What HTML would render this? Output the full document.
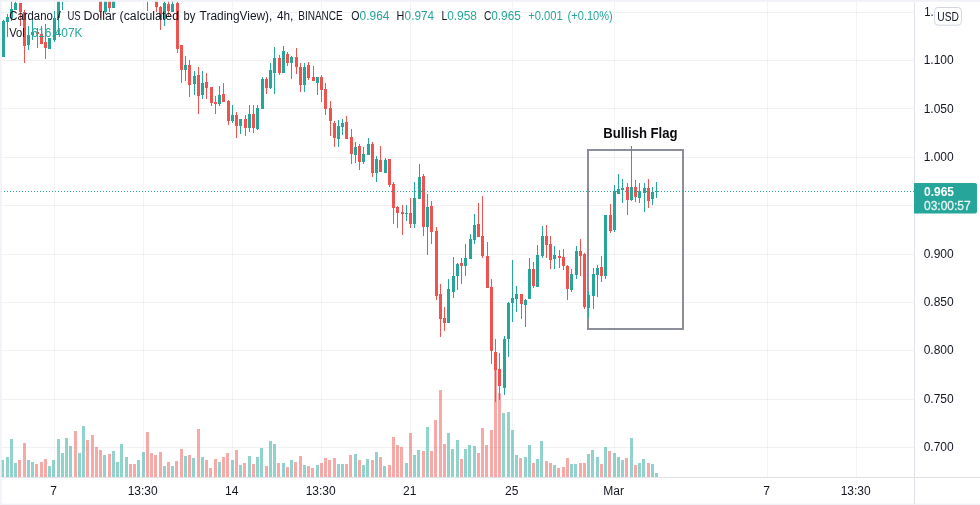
<!DOCTYPE html><html><head><meta charset="utf-8"><title>ADAUSD chart</title><style>html,body{margin:0;padding:0;background:#fff}body{width:980px;height:505px;overflow:hidden}svg{display:block}text{font-family:"Liberation Sans", sans-serif;}</style></head><body>
<svg width="980" height="505" viewBox="0 0 980 505">
<rect width="980" height="505" fill="#fff"/>
<g fill="#2a2e39" fill-opacity="0.062" shape-rendering="crispEdges">
<rect x="54" y="0" width="1" height="477" fill-opacity="0.05"/>
<rect x="143" y="0" width="1" height="477" fill-opacity="0.05"/>
<rect x="232" y="0" width="1" height="477" fill-opacity="0.05"/>
<rect x="321" y="0" width="1" height="477" fill-opacity="0.05"/>
<rect x="410" y="0" width="1" height="477" fill-opacity="0.05"/>
<rect x="512" y="0" width="1" height="477" fill-opacity="0.05"/>
<rect x="614" y="0" width="1" height="477" fill-opacity="0.05"/>
<rect x="767" y="0" width="1" height="477" fill-opacity="0.05"/>
<rect x="856" y="0" width="1" height="477" fill-opacity="0.05"/>
<rect x="0" y="12" width="914" height="1"/>
<rect x="0" y="60" width="914" height="1"/>
<rect x="0" y="108" width="914" height="1"/>
<rect x="0" y="157" width="914" height="1"/>
<rect x="0" y="205" width="914" height="1"/>
<rect x="0" y="254" width="914" height="1"/>
<rect x="0" y="302" width="914" height="1"/>
<rect x="0" y="350" width="914" height="1"/>
<rect x="0" y="399" width="914" height="1"/>
<rect x="0" y="447" width="914" height="1"/>
</g>
<g shape-rendering="crispEdges">
<rect x="1" y="460" width="3" height="17" fill="#26a69a" fill-opacity="0.5"/>
<rect x="6" y="457" width="3" height="20" fill="#26a69a" fill-opacity="0.5"/>
<rect x="10" y="439" width="3" height="38" fill="#26a69a" fill-opacity="0.5"/>
<rect x="14" y="463" width="3" height="14" fill="#26a69a" fill-opacity="0.5"/>
<rect x="18" y="460" width="3" height="17" fill="#ef5350" fill-opacity="0.5"/>
<rect x="23" y="443" width="3" height="34" fill="#ef5350" fill-opacity="0.5"/>
<rect x="27" y="460" width="3" height="17" fill="#26a69a" fill-opacity="0.5"/>
<rect x="31" y="462" width="3" height="15" fill="#26a69a" fill-opacity="0.5"/>
<rect x="35" y="464" width="3" height="13" fill="#ef5350" fill-opacity="0.5"/>
<rect x="40" y="462" width="3" height="15" fill="#ef5350" fill-opacity="0.5"/>
<rect x="44" y="459" width="3" height="18" fill="#ef5350" fill-opacity="0.5"/>
<rect x="48" y="466" width="3" height="11" fill="#26a69a" fill-opacity="0.5"/>
<rect x="52" y="460" width="3" height="17" fill="#26a69a" fill-opacity="0.5"/>
<rect x="57" y="439" width="3" height="38" fill="#26a69a" fill-opacity="0.5"/>
<rect x="61" y="453" width="3" height="24" fill="#26a69a" fill-opacity="0.5"/>
<rect x="65" y="438" width="3" height="39" fill="#26a69a" fill-opacity="0.5"/>
<rect x="69" y="446" width="3" height="31" fill="#26a69a" fill-opacity="0.5"/>
<rect x="74" y="431" width="3" height="46" fill="#ef5350" fill-opacity="0.5"/>
<rect x="78" y="453" width="3" height="24" fill="#26a69a" fill-opacity="0.5"/>
<rect x="82" y="426" width="3" height="51" fill="#26a69a" fill-opacity="0.5"/>
<rect x="86" y="440" width="3" height="37" fill="#ef5350" fill-opacity="0.5"/>
<rect x="91" y="435" width="3" height="42" fill="#ef5350" fill-opacity="0.5"/>
<rect x="95" y="447" width="3" height="30" fill="#ef5350" fill-opacity="0.5"/>
<rect x="99" y="450" width="3" height="27" fill="#ef5350" fill-opacity="0.5"/>
<rect x="103" y="455" width="3" height="22" fill="#26a69a" fill-opacity="0.5"/>
<rect x="108" y="454" width="3" height="23" fill="#ef5350" fill-opacity="0.5"/>
<rect x="112" y="451" width="3" height="26" fill="#26a69a" fill-opacity="0.5"/>
<rect x="116" y="462" width="3" height="15" fill="#26a69a" fill-opacity="0.5"/>
<rect x="120" y="444" width="3" height="33" fill="#26a69a" fill-opacity="0.5"/>
<rect x="125" y="457" width="3" height="20" fill="#26a69a" fill-opacity="0.5"/>
<rect x="129" y="464" width="3" height="13" fill="#ef5350" fill-opacity="0.5"/>
<rect x="133" y="464" width="3" height="13" fill="#ef5350" fill-opacity="0.5"/>
<rect x="137" y="460" width="3" height="17" fill="#26a69a" fill-opacity="0.5"/>
<rect x="142" y="452" width="3" height="25" fill="#26a69a" fill-opacity="0.5"/>
<rect x="146" y="432" width="3" height="45" fill="#ef5350" fill-opacity="0.5"/>
<rect x="150" y="453" width="3" height="24" fill="#ef5350" fill-opacity="0.5"/>
<rect x="154" y="455" width="3" height="22" fill="#ef5350" fill-opacity="0.5"/>
<rect x="159" y="452" width="3" height="25" fill="#ef5350" fill-opacity="0.5"/>
<rect x="163" y="466" width="3" height="11" fill="#26a69a" fill-opacity="0.5"/>
<rect x="167" y="462" width="3" height="15" fill="#ef5350" fill-opacity="0.5"/>
<rect x="171" y="466" width="3" height="11" fill="#26a69a" fill-opacity="0.5"/>
<rect x="175" y="461" width="3" height="16" fill="#ef5350" fill-opacity="0.5"/>
<rect x="180" y="449" width="3" height="28" fill="#ef5350" fill-opacity="0.5"/>
<rect x="184" y="456" width="3" height="21" fill="#26a69a" fill-opacity="0.5"/>
<rect x="188" y="455" width="3" height="22" fill="#ef5350" fill-opacity="0.5"/>
<rect x="192" y="458" width="3" height="19" fill="#26a69a" fill-opacity="0.5"/>
<rect x="197" y="429" width="3" height="48" fill="#ef5350" fill-opacity="0.5"/>
<rect x="201" y="457" width="3" height="20" fill="#26a69a" fill-opacity="0.5"/>
<rect x="205" y="460" width="3" height="17" fill="#ef5350" fill-opacity="0.5"/>
<rect x="209" y="468" width="3" height="9" fill="#ef5350" fill-opacity="0.5"/>
<rect x="214" y="459" width="3" height="18" fill="#ef5350" fill-opacity="0.5"/>
<rect x="218" y="462" width="3" height="15" fill="#26a69a" fill-opacity="0.5"/>
<rect x="222" y="457" width="3" height="20" fill="#ef5350" fill-opacity="0.5"/>
<rect x="226" y="453" width="3" height="24" fill="#ef5350" fill-opacity="0.5"/>
<rect x="231" y="460" width="3" height="17" fill="#26a69a" fill-opacity="0.5"/>
<rect x="235" y="450" width="3" height="27" fill="#ef5350" fill-opacity="0.5"/>
<rect x="239" y="465" width="3" height="12" fill="#26a69a" fill-opacity="0.5"/>
<rect x="243" y="463" width="3" height="14" fill="#ef5350" fill-opacity="0.5"/>
<rect x="248" y="456" width="3" height="21" fill="#26a69a" fill-opacity="0.5"/>
<rect x="252" y="464" width="3" height="13" fill="#ef5350" fill-opacity="0.5"/>
<rect x="256" y="457" width="3" height="20" fill="#26a69a" fill-opacity="0.5"/>
<rect x="260" y="448" width="3" height="29" fill="#26a69a" fill-opacity="0.5"/>
<rect x="265" y="466" width="3" height="11" fill="#ef5350" fill-opacity="0.5"/>
<rect x="269" y="441" width="3" height="36" fill="#26a69a" fill-opacity="0.5"/>
<rect x="273" y="444" width="3" height="33" fill="#26a69a" fill-opacity="0.5"/>
<rect x="277" y="463" width="3" height="14" fill="#ef5350" fill-opacity="0.5"/>
<rect x="282" y="463" width="3" height="14" fill="#26a69a" fill-opacity="0.5"/>
<rect x="286" y="467" width="3" height="10" fill="#ef5350" fill-opacity="0.5"/>
<rect x="290" y="460" width="3" height="17" fill="#26a69a" fill-opacity="0.5"/>
<rect x="294" y="462" width="3" height="15" fill="#ef5350" fill-opacity="0.5"/>
<rect x="299" y="456" width="3" height="21" fill="#ef5350" fill-opacity="0.5"/>
<rect x="303" y="465" width="3" height="12" fill="#26a69a" fill-opacity="0.5"/>
<rect x="307" y="466" width="3" height="11" fill="#ef5350" fill-opacity="0.5"/>
<rect x="311" y="468" width="3" height="9" fill="#ef5350" fill-opacity="0.5"/>
<rect x="316" y="465" width="3" height="12" fill="#26a69a" fill-opacity="0.5"/>
<rect x="320" y="463" width="3" height="14" fill="#ef5350" fill-opacity="0.5"/>
<rect x="324" y="458" width="3" height="19" fill="#ef5350" fill-opacity="0.5"/>
<rect x="328" y="460" width="3" height="17" fill="#ef5350" fill-opacity="0.5"/>
<rect x="333" y="458" width="3" height="19" fill="#ef5350" fill-opacity="0.5"/>
<rect x="337" y="464" width="3" height="13" fill="#26a69a" fill-opacity="0.5"/>
<rect x="341" y="464" width="3" height="13" fill="#26a69a" fill-opacity="0.5"/>
<rect x="345" y="464" width="3" height="13" fill="#ef5350" fill-opacity="0.5"/>
<rect x="349" y="455" width="3" height="22" fill="#ef5350" fill-opacity="0.5"/>
<rect x="354" y="454" width="3" height="23" fill="#26a69a" fill-opacity="0.5"/>
<rect x="358" y="460" width="3" height="17" fill="#ef5350" fill-opacity="0.5"/>
<rect x="362" y="465" width="3" height="12" fill="#26a69a" fill-opacity="0.5"/>
<rect x="366" y="459" width="3" height="18" fill="#26a69a" fill-opacity="0.5"/>
<rect x="371" y="460" width="3" height="17" fill="#ef5350" fill-opacity="0.5"/>
<rect x="375" y="452" width="3" height="25" fill="#26a69a" fill-opacity="0.5"/>
<rect x="379" y="457" width="3" height="20" fill="#ef5350" fill-opacity="0.5"/>
<rect x="383" y="466" width="3" height="11" fill="#26a69a" fill-opacity="0.5"/>
<rect x="388" y="465" width="3" height="12" fill="#ef5350" fill-opacity="0.5"/>
<rect x="392" y="437" width="3" height="40" fill="#ef5350" fill-opacity="0.5"/>
<rect x="396" y="445" width="3" height="32" fill="#ef5350" fill-opacity="0.5"/>
<rect x="400" y="447" width="3" height="30" fill="#ef5350" fill-opacity="0.5"/>
<rect x="405" y="463" width="3" height="14" fill="#26a69a" fill-opacity="0.5"/>
<rect x="409" y="433" width="3" height="44" fill="#ef5350" fill-opacity="0.5"/>
<rect x="413" y="455" width="3" height="22" fill="#26a69a" fill-opacity="0.5"/>
<rect x="417" y="450" width="3" height="27" fill="#26a69a" fill-opacity="0.5"/>
<rect x="422" y="451" width="3" height="26" fill="#ef5350" fill-opacity="0.5"/>
<rect x="426" y="427" width="3" height="50" fill="#26a69a" fill-opacity="0.5"/>
<rect x="430" y="451" width="3" height="26" fill="#ef5350" fill-opacity="0.5"/>
<rect x="434" y="420" width="3" height="57" fill="#ef5350" fill-opacity="0.5"/>
<rect x="439" y="390" width="3" height="87" fill="#ef5350" fill-opacity="0.5"/>
<rect x="443" y="444" width="3" height="33" fill="#ef5350" fill-opacity="0.5"/>
<rect x="447" y="433" width="3" height="44" fill="#26a69a" fill-opacity="0.5"/>
<rect x="451" y="449" width="3" height="28" fill="#26a69a" fill-opacity="0.5"/>
<rect x="456" y="440" width="3" height="37" fill="#26a69a" fill-opacity="0.5"/>
<rect x="460" y="459" width="3" height="18" fill="#ef5350" fill-opacity="0.5"/>
<rect x="464" y="449" width="3" height="28" fill="#26a69a" fill-opacity="0.5"/>
<rect x="468" y="445" width="3" height="32" fill="#26a69a" fill-opacity="0.5"/>
<rect x="473" y="446" width="3" height="31" fill="#26a69a" fill-opacity="0.5"/>
<rect x="477" y="453" width="3" height="24" fill="#ef5350" fill-opacity="0.5"/>
<rect x="481" y="428" width="3" height="49" fill="#ef5350" fill-opacity="0.5"/>
<rect x="485" y="445" width="3" height="32" fill="#ef5350" fill-opacity="0.5"/>
<rect x="490" y="430" width="3" height="47" fill="#ef5350" fill-opacity="0.5"/>
<rect x="494" y="370" width="3" height="107" fill="#ef5350" fill-opacity="0.5"/>
<rect x="498" y="393" width="3" height="84" fill="#ef5350" fill-opacity="0.5"/>
<rect x="502" y="413" width="3" height="64" fill="#26a69a" fill-opacity="0.5"/>
<rect x="507" y="412" width="3" height="65" fill="#26a69a" fill-opacity="0.5"/>
<rect x="511" y="430" width="3" height="47" fill="#26a69a" fill-opacity="0.5"/>
<rect x="515" y="455" width="3" height="22" fill="#26a69a" fill-opacity="0.5"/>
<rect x="519" y="458" width="3" height="19" fill="#ef5350" fill-opacity="0.5"/>
<rect x="524" y="457" width="3" height="20" fill="#26a69a" fill-opacity="0.5"/>
<rect x="528" y="445" width="3" height="32" fill="#26a69a" fill-opacity="0.5"/>
<rect x="532" y="463" width="3" height="14" fill="#ef5350" fill-opacity="0.5"/>
<rect x="536" y="459" width="3" height="18" fill="#26a69a" fill-opacity="0.5"/>
<rect x="540" y="441" width="3" height="36" fill="#26a69a" fill-opacity="0.5"/>
<rect x="545" y="461" width="3" height="16" fill="#ef5350" fill-opacity="0.5"/>
<rect x="549" y="463" width="3" height="14" fill="#ef5350" fill-opacity="0.5"/>
<rect x="553" y="465" width="3" height="12" fill="#26a69a" fill-opacity="0.5"/>
<rect x="557" y="468" width="3" height="9" fill="#ef5350" fill-opacity="0.5"/>
<rect x="562" y="467" width="3" height="10" fill="#ef5350" fill-opacity="0.5"/>
<rect x="566" y="458" width="3" height="19" fill="#ef5350" fill-opacity="0.5"/>
<rect x="570" y="464" width="3" height="13" fill="#26a69a" fill-opacity="0.5"/>
<rect x="574" y="464" width="3" height="13" fill="#26a69a" fill-opacity="0.5"/>
<rect x="579" y="463" width="3" height="14" fill="#ef5350" fill-opacity="0.5"/>
<rect x="583" y="463" width="3" height="14" fill="#ef5350" fill-opacity="0.5"/>
<rect x="587" y="454" width="3" height="23" fill="#26a69a" fill-opacity="0.5"/>
<rect x="591" y="450" width="3" height="27" fill="#26a69a" fill-opacity="0.5"/>
<rect x="596" y="457" width="3" height="20" fill="#26a69a" fill-opacity="0.5"/>
<rect x="600" y="464" width="3" height="13" fill="#ef5350" fill-opacity="0.5"/>
<rect x="604" y="447" width="3" height="30" fill="#26a69a" fill-opacity="0.5"/>
<rect x="608" y="451" width="3" height="26" fill="#ef5350" fill-opacity="0.5"/>
<rect x="613" y="453" width="3" height="24" fill="#26a69a" fill-opacity="0.5"/>
<rect x="617" y="457" width="3" height="20" fill="#26a69a" fill-opacity="0.5"/>
<rect x="621" y="460" width="3" height="17" fill="#26a69a" fill-opacity="0.5"/>
<rect x="625" y="458" width="3" height="19" fill="#ef5350" fill-opacity="0.5"/>
<rect x="630" y="438" width="3" height="39" fill="#26a69a" fill-opacity="0.5"/>
<rect x="634" y="465" width="3" height="12" fill="#ef5350" fill-opacity="0.5"/>
<rect x="638" y="463" width="3" height="14" fill="#26a69a" fill-opacity="0.5"/>
<rect x="642" y="459" width="3" height="18" fill="#26a69a" fill-opacity="0.5"/>
<rect x="647" y="463" width="3" height="14" fill="#ef5350" fill-opacity="0.5"/>
<rect x="651" y="464" width="3" height="13" fill="#26a69a" fill-opacity="0.5"/>
<rect x="655" y="473" width="3" height="4" fill="#26a69a" fill-opacity="0.5"/>
</g>
<rect x="588" y="150" width="95" height="179" fill="none" stroke="#8c8e99" stroke-width="2" shape-rendering="crispEdges"/>
<g shape-rendering="crispEdges">
<rect x="3" y="20" width="1" height="37" fill="#26a69a"/>
<rect x="2" y="21" width="3" height="36" fill="#26a69a"/>
<rect x="7" y="14" width="1" height="23" fill="#26a69a"/>
<rect x="6" y="17" width="3" height="5" fill="#26a69a"/>
<rect x="11" y="1" width="1" height="20" fill="#26a69a"/>
<rect x="10" y="9" width="3" height="9" fill="#26a69a"/>
<rect x="15" y="0" width="1" height="10" fill="#26a69a"/>
<rect x="14" y="3" width="3" height="7" fill="#26a69a"/>
<rect x="20" y="3" width="1" height="23" fill="#ef5350"/>
<rect x="19" y="3" width="3" height="9" fill="#ef5350"/>
<rect x="24" y="10" width="1" height="53" fill="#ef5350"/>
<rect x="23" y="12" width="3" height="34" fill="#ef5350"/>
<rect x="28" y="26" width="1" height="24" fill="#26a69a"/>
<rect x="27" y="35" width="3" height="10" fill="#26a69a"/>
<rect x="32" y="17" width="1" height="23" fill="#26a69a"/>
<rect x="31" y="32" width="3" height="3" fill="#26a69a"/>
<rect x="37" y="28" width="1" height="20" fill="#ef5350"/>
<rect x="36" y="32" width="3" height="2" fill="#ef5350"/>
<rect x="41" y="26" width="1" height="18" fill="#ef5350"/>
<rect x="40" y="34" width="3" height="10" fill="#ef5350"/>
<rect x="45" y="24" width="1" height="35" fill="#ef5350"/>
<rect x="44" y="42" width="3" height="6" fill="#ef5350"/>
<rect x="49" y="38" width="1" height="11" fill="#26a69a"/>
<rect x="48" y="38" width="3" height="11" fill="#26a69a"/>
<rect x="54" y="11" width="1" height="31" fill="#26a69a"/>
<rect x="53" y="18" width="3" height="22" fill="#26a69a"/>
<rect x="58" y="0" width="1" height="34" fill="#26a69a"/>
<rect x="57" y="0" width="3" height="18" fill="#26a69a"/>
<rect x="62" y="0" width="1" height="10" fill="#26a69a"/>
<rect x="66" y="0" width="1" height="2" fill="#26a69a"/>
<rect x="100" y="0" width="1" height="18" fill="#ef5350"/>
<rect x="99" y="0" width="3" height="12" fill="#ef5350"/>
<rect x="105" y="0" width="1" height="14" fill="#26a69a"/>
<rect x="104" y="0" width="3" height="12" fill="#26a69a"/>
<rect x="109" y="0" width="1" height="12" fill="#ef5350"/>
<rect x="108" y="0" width="3" height="8" fill="#ef5350"/>
<rect x="113" y="0" width="1" height="8" fill="#26a69a"/>
<rect x="112" y="0" width="3" height="8" fill="#26a69a"/>
<rect x="147" y="0" width="1" height="11" fill="#ef5350"/>
<rect x="156" y="0" width="1" height="12" fill="#ef5350"/>
<rect x="155" y="0" width="3" height="7" fill="#ef5350"/>
<rect x="160" y="6" width="1" height="24" fill="#ef5350"/>
<rect x="159" y="7" width="3" height="12" fill="#ef5350"/>
<rect x="164" y="1" width="1" height="25" fill="#26a69a"/>
<rect x="163" y="3" width="3" height="16" fill="#26a69a"/>
<rect x="168" y="1" width="1" height="15" fill="#ef5350"/>
<rect x="167" y="4" width="3" height="7" fill="#ef5350"/>
<rect x="172" y="1" width="1" height="11" fill="#26a69a"/>
<rect x="171" y="4" width="3" height="8" fill="#26a69a"/>
<rect x="177" y="1" width="1" height="52" fill="#ef5350"/>
<rect x="176" y="3" width="3" height="46" fill="#ef5350"/>
<rect x="181" y="45" width="1" height="38" fill="#ef5350"/>
<rect x="180" y="45" width="3" height="25" fill="#ef5350"/>
<rect x="185" y="56" width="1" height="25" fill="#26a69a"/>
<rect x="184" y="65" width="3" height="5" fill="#26a69a"/>
<rect x="189" y="60" width="1" height="37" fill="#ef5350"/>
<rect x="188" y="65" width="3" height="20" fill="#ef5350"/>
<rect x="194" y="71" width="1" height="24" fill="#26a69a"/>
<rect x="193" y="76" width="3" height="8" fill="#26a69a"/>
<rect x="198" y="67" width="1" height="47" fill="#ef5350"/>
<rect x="197" y="75" width="3" height="21" fill="#ef5350"/>
<rect x="202" y="71" width="1" height="28" fill="#26a69a"/>
<rect x="201" y="83" width="3" height="12" fill="#26a69a"/>
<rect x="206" y="73" width="1" height="26" fill="#ef5350"/>
<rect x="205" y="82" width="3" height="6" fill="#ef5350"/>
<rect x="211" y="87" width="1" height="19" fill="#ef5350"/>
<rect x="210" y="87" width="3" height="16" fill="#ef5350"/>
<rect x="215" y="96" width="1" height="18" fill="#ef5350"/>
<rect x="214" y="102" width="3" height="2" fill="#ef5350"/>
<rect x="219" y="86" width="1" height="20" fill="#26a69a"/>
<rect x="218" y="95" width="3" height="9" fill="#26a69a"/>
<rect x="223" y="83" width="1" height="19" fill="#ef5350"/>
<rect x="222" y="94" width="3" height="8" fill="#ef5350"/>
<rect x="228" y="100" width="1" height="25" fill="#ef5350"/>
<rect x="227" y="101" width="3" height="20" fill="#ef5350"/>
<rect x="232" y="105" width="1" height="18" fill="#26a69a"/>
<rect x="231" y="115" width="3" height="6" fill="#26a69a"/>
<rect x="236" y="112" width="1" height="26" fill="#ef5350"/>
<rect x="235" y="115" width="3" height="11" fill="#ef5350"/>
<rect x="240" y="119" width="1" height="15" fill="#26a69a"/>
<rect x="239" y="119" width="3" height="7" fill="#26a69a"/>
<rect x="245" y="115" width="1" height="21" fill="#ef5350"/>
<rect x="244" y="119" width="3" height="9" fill="#ef5350"/>
<rect x="249" y="105" width="1" height="27" fill="#26a69a"/>
<rect x="248" y="114" width="3" height="14" fill="#26a69a"/>
<rect x="253" y="105" width="1" height="28" fill="#ef5350"/>
<rect x="252" y="114" width="3" height="14" fill="#ef5350"/>
<rect x="257" y="105" width="1" height="25" fill="#26a69a"/>
<rect x="256" y="108" width="3" height="21" fill="#26a69a"/>
<rect x="262" y="77" width="1" height="32" fill="#26a69a"/>
<rect x="261" y="79" width="3" height="30" fill="#26a69a"/>
<rect x="266" y="77" width="1" height="17" fill="#ef5350"/>
<rect x="265" y="79" width="3" height="9" fill="#ef5350"/>
<rect x="270" y="63" width="1" height="26" fill="#26a69a"/>
<rect x="269" y="70" width="3" height="18" fill="#26a69a"/>
<rect x="274" y="47" width="1" height="47" fill="#26a69a"/>
<rect x="273" y="58" width="3" height="15" fill="#26a69a"/>
<rect x="279" y="55" width="1" height="20" fill="#ef5350"/>
<rect x="278" y="58" width="3" height="15" fill="#ef5350"/>
<rect x="283" y="46" width="1" height="27" fill="#26a69a"/>
<rect x="282" y="51" width="3" height="22" fill="#26a69a"/>
<rect x="287" y="52" width="1" height="14" fill="#ef5350"/>
<rect x="286" y="54" width="3" height="9" fill="#ef5350"/>
<rect x="291" y="56" width="1" height="23" fill="#26a69a"/>
<rect x="290" y="57" width="3" height="6" fill="#26a69a"/>
<rect x="296" y="48" width="1" height="26" fill="#ef5350"/>
<rect x="295" y="57" width="3" height="10" fill="#ef5350"/>
<rect x="300" y="63" width="1" height="29" fill="#ef5350"/>
<rect x="299" y="67" width="3" height="18" fill="#ef5350"/>
<rect x="304" y="63" width="1" height="29" fill="#26a69a"/>
<rect x="303" y="67" width="3" height="18" fill="#26a69a"/>
<rect x="308" y="62" width="1" height="18" fill="#ef5350"/>
<rect x="307" y="65" width="3" height="13" fill="#ef5350"/>
<rect x="313" y="66" width="1" height="15" fill="#ef5350"/>
<rect x="312" y="77" width="3" height="4" fill="#ef5350"/>
<rect x="317" y="77" width="1" height="18" fill="#26a69a"/>
<rect x="316" y="77" width="3" height="6" fill="#26a69a"/>
<rect x="321" y="75" width="1" height="27" fill="#ef5350"/>
<rect x="320" y="77" width="3" height="13" fill="#ef5350"/>
<rect x="325" y="83" width="1" height="32" fill="#ef5350"/>
<rect x="324" y="89" width="3" height="20" fill="#ef5350"/>
<rect x="330" y="101" width="1" height="35" fill="#ef5350"/>
<rect x="329" y="108" width="3" height="13" fill="#ef5350"/>
<rect x="334" y="121" width="1" height="26" fill="#ef5350"/>
<rect x="333" y="123" width="3" height="15" fill="#ef5350"/>
<rect x="338" y="120" width="1" height="27" fill="#26a69a"/>
<rect x="337" y="126" width="3" height="13" fill="#26a69a"/>
<rect x="342" y="119" width="1" height="16" fill="#26a69a"/>
<rect x="341" y="123" width="3" height="4" fill="#26a69a"/>
<rect x="346" y="116" width="1" height="23" fill="#ef5350"/>
<rect x="345" y="122" width="3" height="17" fill="#ef5350"/>
<rect x="351" y="129" width="1" height="35" fill="#ef5350"/>
<rect x="350" y="137" width="3" height="17" fill="#ef5350"/>
<rect x="355" y="142" width="1" height="21" fill="#26a69a"/>
<rect x="354" y="147" width="3" height="8" fill="#26a69a"/>
<rect x="359" y="144" width="1" height="26" fill="#ef5350"/>
<rect x="358" y="146" width="3" height="16" fill="#ef5350"/>
<rect x="363" y="147" width="1" height="17" fill="#26a69a"/>
<rect x="362" y="154" width="3" height="8" fill="#26a69a"/>
<rect x="368" y="138" width="1" height="17" fill="#26a69a"/>
<rect x="367" y="144" width="3" height="11" fill="#26a69a"/>
<rect x="372" y="142" width="1" height="35" fill="#ef5350"/>
<rect x="371" y="144" width="3" height="29" fill="#ef5350"/>
<rect x="376" y="156" width="1" height="26" fill="#26a69a"/>
<rect x="375" y="159" width="3" height="14" fill="#26a69a"/>
<rect x="380" y="146" width="1" height="26" fill="#ef5350"/>
<rect x="379" y="160" width="3" height="12" fill="#ef5350"/>
<rect x="385" y="158" width="1" height="15" fill="#26a69a"/>
<rect x="384" y="160" width="3" height="13" fill="#26a69a"/>
<rect x="389" y="159" width="1" height="28" fill="#ef5350"/>
<rect x="388" y="159" width="3" height="26" fill="#ef5350"/>
<rect x="393" y="182" width="1" height="42" fill="#ef5350"/>
<rect x="392" y="184" width="3" height="24" fill="#ef5350"/>
<rect x="397" y="206" width="1" height="22" fill="#ef5350"/>
<rect x="396" y="207" width="3" height="6" fill="#ef5350"/>
<rect x="402" y="205" width="1" height="30" fill="#ef5350"/>
<rect x="401" y="212" width="3" height="2" fill="#ef5350"/>
<rect x="406" y="205" width="1" height="16" fill="#26a69a"/>
<rect x="405" y="213" width="3" height="1" fill="#26a69a"/>
<rect x="410" y="198" width="1" height="30" fill="#ef5350"/>
<rect x="409" y="213" width="3" height="11" fill="#ef5350"/>
<rect x="414" y="182" width="1" height="46" fill="#26a69a"/>
<rect x="413" y="198" width="3" height="26" fill="#26a69a"/>
<rect x="419" y="164" width="1" height="35" fill="#26a69a"/>
<rect x="418" y="177" width="3" height="22" fill="#26a69a"/>
<rect x="423" y="174" width="1" height="62" fill="#ef5350"/>
<rect x="422" y="176" width="3" height="51" fill="#ef5350"/>
<rect x="427" y="194" width="1" height="61" fill="#26a69a"/>
<rect x="426" y="207" width="3" height="20" fill="#26a69a"/>
<rect x="431" y="201" width="1" height="43" fill="#ef5350"/>
<rect x="430" y="206" width="3" height="26" fill="#ef5350"/>
<rect x="436" y="227" width="1" height="73" fill="#ef5350"/>
<rect x="435" y="231" width="3" height="65" fill="#ef5350"/>
<rect x="440" y="284" width="1" height="53" fill="#ef5350"/>
<rect x="439" y="294" width="3" height="25" fill="#ef5350"/>
<rect x="444" y="307" width="1" height="24" fill="#ef5350"/>
<rect x="443" y="318" width="3" height="5" fill="#ef5350"/>
<rect x="448" y="279" width="1" height="44" fill="#26a69a"/>
<rect x="447" y="289" width="3" height="34" fill="#26a69a"/>
<rect x="453" y="257" width="1" height="41" fill="#26a69a"/>
<rect x="452" y="276" width="3" height="16" fill="#26a69a"/>
<rect x="457" y="263" width="1" height="27" fill="#26a69a"/>
<rect x="456" y="264" width="3" height="12" fill="#26a69a"/>
<rect x="461" y="258" width="1" height="26" fill="#ef5350"/>
<rect x="460" y="263" width="3" height="3" fill="#ef5350"/>
<rect x="465" y="244" width="1" height="32" fill="#26a69a"/>
<rect x="464" y="258" width="3" height="8" fill="#26a69a"/>
<rect x="470" y="234" width="1" height="25" fill="#26a69a"/>
<rect x="469" y="239" width="3" height="20" fill="#26a69a"/>
<rect x="474" y="214" width="1" height="30" fill="#26a69a"/>
<rect x="473" y="225" width="3" height="15" fill="#26a69a"/>
<rect x="478" y="203" width="1" height="34" fill="#ef5350"/>
<rect x="477" y="224" width="3" height="13" fill="#ef5350"/>
<rect x="482" y="196" width="1" height="62" fill="#ef5350"/>
<rect x="481" y="236" width="3" height="20" fill="#ef5350"/>
<rect x="487" y="242" width="1" height="46" fill="#ef5350"/>
<rect x="486" y="256" width="3" height="32" fill="#ef5350"/>
<rect x="491" y="279" width="1" height="85" fill="#ef5350"/>
<rect x="490" y="287" width="3" height="64" fill="#ef5350"/>
<rect x="495" y="339" width="1" height="63" fill="#ef5350"/>
<rect x="494" y="352" width="3" height="18" fill="#ef5350"/>
<rect x="499" y="353" width="1" height="47" fill="#ef5350"/>
<rect x="498" y="369" width="3" height="17" fill="#ef5350"/>
<rect x="504" y="336" width="1" height="59" fill="#26a69a"/>
<rect x="503" y="339" width="3" height="49" fill="#26a69a"/>
<rect x="508" y="302" width="1" height="55" fill="#26a69a"/>
<rect x="507" y="303" width="3" height="36" fill="#26a69a"/>
<rect x="512" y="260" width="1" height="62" fill="#26a69a"/>
<rect x="511" y="298" width="3" height="5" fill="#26a69a"/>
<rect x="516" y="286" width="1" height="26" fill="#26a69a"/>
<rect x="515" y="294" width="3" height="5" fill="#26a69a"/>
<rect x="521" y="294" width="1" height="25" fill="#ef5350"/>
<rect x="520" y="294" width="3" height="10" fill="#ef5350"/>
<rect x="525" y="299" width="1" height="28" fill="#26a69a"/>
<rect x="524" y="300" width="3" height="5" fill="#26a69a"/>
<rect x="529" y="258" width="1" height="41" fill="#26a69a"/>
<rect x="528" y="269" width="3" height="30" fill="#26a69a"/>
<rect x="533" y="262" width="1" height="26" fill="#ef5350"/>
<rect x="532" y="269" width="3" height="17" fill="#ef5350"/>
<rect x="537" y="245" width="1" height="42" fill="#26a69a"/>
<rect x="536" y="255" width="3" height="32" fill="#26a69a"/>
<rect x="542" y="226" width="1" height="32" fill="#26a69a"/>
<rect x="541" y="236" width="3" height="20" fill="#26a69a"/>
<rect x="546" y="225" width="1" height="33" fill="#ef5350"/>
<rect x="545" y="236" width="3" height="9" fill="#ef5350"/>
<rect x="550" y="236" width="1" height="33" fill="#ef5350"/>
<rect x="549" y="244" width="3" height="16" fill="#ef5350"/>
<rect x="554" y="246" width="1" height="23" fill="#26a69a"/>
<rect x="553" y="255" width="3" height="4" fill="#26a69a"/>
<rect x="559" y="250" width="1" height="18" fill="#ef5350"/>
<rect x="558" y="256" width="3" height="2" fill="#ef5350"/>
<rect x="563" y="249" width="1" height="21" fill="#ef5350"/>
<rect x="562" y="257" width="3" height="9" fill="#ef5350"/>
<rect x="567" y="265" width="1" height="35" fill="#ef5350"/>
<rect x="566" y="266" width="3" height="23" fill="#ef5350"/>
<rect x="571" y="269" width="1" height="23" fill="#26a69a"/>
<rect x="570" y="274" width="3" height="16" fill="#26a69a"/>
<rect x="576" y="246" width="1" height="33" fill="#26a69a"/>
<rect x="575" y="251" width="3" height="24" fill="#26a69a"/>
<rect x="580" y="239" width="1" height="37" fill="#ef5350"/>
<rect x="579" y="251" width="3" height="5" fill="#ef5350"/>
<rect x="584" y="253" width="1" height="56" fill="#ef5350"/>
<rect x="583" y="254" width="3" height="53" fill="#ef5350"/>
<rect x="588" y="291" width="1" height="27" fill="#26a69a"/>
<rect x="587" y="295" width="3" height="13" fill="#26a69a"/>
<rect x="593" y="268" width="1" height="41" fill="#26a69a"/>
<rect x="592" y="274" width="3" height="22" fill="#26a69a"/>
<rect x="597" y="265" width="1" height="32" fill="#26a69a"/>
<rect x="596" y="268" width="3" height="7" fill="#26a69a"/>
<rect x="601" y="256" width="1" height="26" fill="#ef5350"/>
<rect x="600" y="267" width="3" height="9" fill="#ef5350"/>
<rect x="605" y="215" width="1" height="64" fill="#26a69a"/>
<rect x="604" y="215" width="3" height="61" fill="#26a69a"/>
<rect x="610" y="204" width="1" height="29" fill="#ef5350"/>
<rect x="609" y="215" width="3" height="16" fill="#ef5350"/>
<rect x="614" y="185" width="1" height="47" fill="#26a69a"/>
<rect x="613" y="191" width="3" height="39" fill="#26a69a"/>
<rect x="618" y="174" width="1" height="20" fill="#26a69a"/>
<rect x="617" y="189" width="3" height="5" fill="#26a69a"/>
<rect x="622" y="179" width="1" height="24" fill="#26a69a"/>
<rect x="621" y="188" width="3" height="2" fill="#26a69a"/>
<rect x="627" y="183" width="1" height="32" fill="#ef5350"/>
<rect x="626" y="187" width="3" height="13" fill="#ef5350"/>
<rect x="631" y="146" width="1" height="55" fill="#26a69a"/>
<rect x="630" y="187" width="3" height="13" fill="#26a69a"/>
<rect x="635" y="180" width="1" height="22" fill="#ef5350"/>
<rect x="634" y="187" width="3" height="10" fill="#ef5350"/>
<rect x="639" y="183" width="1" height="20" fill="#26a69a"/>
<rect x="638" y="191" width="3" height="7" fill="#26a69a"/>
<rect x="644" y="183" width="1" height="29" fill="#26a69a"/>
<rect x="643" y="188" width="3" height="5" fill="#26a69a"/>
<rect x="648" y="179" width="1" height="29" fill="#ef5350"/>
<rect x="647" y="188" width="3" height="13" fill="#ef5350"/>
<rect x="652" y="187" width="1" height="18" fill="#26a69a"/>
<rect x="651" y="192" width="3" height="7" fill="#26a69a"/>
<rect x="656" y="182" width="1" height="16" fill="#26a69a"/>
<rect x="655" y="191" width="3" height="1" fill="#26a69a"/>
</g>
<line x1="1" y1="191.5" x2="914" y2="191.5" stroke="#26a69a" stroke-width="1" stroke-dasharray="1 2" shape-rendering="crispEdges"/>
<rect x="0" y="0" width="980" height="1.8" fill="#f0f2f7"/>
<rect x="0" y="0" width="1.7" height="505" fill="#f0f2f7"/>
<rect x="0" y="503.7" width="980" height="1.3" fill="#f0f2f7"/>
<g fill="#e1e2e7" shape-rendering="crispEdges"><rect x="914" y="2" width="1" height="502"/><rect x="2" y="477" width="978" height="1"/></g>
<text x="9.2" y="20.2" font-size="12" font-weight="normal" fill="#131722" text-anchor="start" textLength="43.6" lengthAdjust="spacingAndGlyphs">Cardano</text>
<text x="57.1" y="20.2" font-size="12" font-weight="normal" fill="#131722" text-anchor="start" textLength="3.8" lengthAdjust="spacingAndGlyphs">/</text>
<text x="67.5" y="20.2" font-size="12" font-weight="normal" fill="#131722" text-anchor="start" textLength="13.2" lengthAdjust="spacingAndGlyphs">US</text>
<text x="83.6" y="20.2" font-size="12" font-weight="normal" fill="#131722" text-anchor="start" textLength="32.4" lengthAdjust="spacingAndGlyphs">Dollar</text>
<text x="119.6" y="20.2" font-size="12" font-weight="normal" fill="#131722" text-anchor="start" textLength="59.4" lengthAdjust="spacingAndGlyphs">(calculated</text>
<text x="183.6" y="20.2" font-size="12" font-weight="normal" fill="#131722" text-anchor="start" textLength="11.8" lengthAdjust="spacingAndGlyphs">by</text>
<text x="199.6" y="20.2" font-size="12" font-weight="normal" fill="#131722" text-anchor="start" textLength="72.8" lengthAdjust="spacingAndGlyphs">TradingView),</text>
<text x="277.0" y="20.2" font-size="12" font-weight="normal" fill="#131722" text-anchor="start" textLength="16.4" lengthAdjust="spacingAndGlyphs">4h,</text>
<text x="298.2" y="20.2" font-size="12" font-weight="normal" fill="#131722" text-anchor="start" textLength="44.6" lengthAdjust="spacingAndGlyphs">BINANCE</text>
<text x="351.2" y="20.2" font-size="12" font-weight="normal" fill="#131722" text-anchor="start" textLength="8.2" lengthAdjust="spacingAndGlyphs">O</text>
<text x="396.6" y="20.2" font-size="12" font-weight="normal" fill="#131722" text-anchor="start" textLength="7.8" lengthAdjust="spacingAndGlyphs">H</text>
<text x="441.6" y="20.2" font-size="12" font-weight="normal" fill="#131722" text-anchor="start" textLength="5.8" lengthAdjust="spacingAndGlyphs">L</text>
<text x="484.0" y="20.2" font-size="12" font-weight="normal" fill="#131722" text-anchor="start" textLength="7.4" lengthAdjust="spacingAndGlyphs">C</text>
<text x="359.6" y="20.2" font-size="12" font-weight="normal" fill="#26a69a" text-anchor="start" textLength="29.8" lengthAdjust="spacingAndGlyphs">0.964</text>
<text x="404.6" y="20.2" font-size="12" font-weight="normal" fill="#26a69a" text-anchor="start" textLength="29.4" lengthAdjust="spacingAndGlyphs">0.974</text>
<text x="447.2" y="20.2" font-size="12" font-weight="normal" fill="#26a69a" text-anchor="start" textLength="29.8" lengthAdjust="spacingAndGlyphs">0.958</text>
<text x="491.2" y="20.2" font-size="12" font-weight="normal" fill="#26a69a" text-anchor="start" textLength="29.6" lengthAdjust="spacingAndGlyphs">0.965</text>
<text x="528.2" y="20.2" font-size="12" font-weight="normal" fill="#26a69a" text-anchor="start" textLength="34.6" lengthAdjust="spacingAndGlyphs">+0.001</text>
<text x="567.6" y="20.2" font-size="12" font-weight="normal" fill="#26a69a" text-anchor="start" textLength="45.2" lengthAdjust="spacingAndGlyphs">(+0.10%)</text>
<text x="9.2" y="36.6" font-size="12" font-weight="normal" fill="#131722" text-anchor="start" textLength="15.6" lengthAdjust="spacingAndGlyphs">Vol</text>
<text x="31.6" y="36.6" font-size="12" font-weight="normal" fill="#26a69a" text-anchor="start" textLength="50.8" lengthAdjust="spacingAndGlyphs">616.407K</text>
<text x="603.2" y="137.9" font-size="14" font-weight="bold" fill="#0b0b0f" text-anchor="start" textLength="74.4" lengthAdjust="spacingAndGlyphs">Bullish Flag</text>
<text x="923.7" y="64.48" font-size="12" font-weight="normal" fill="#131722" text-anchor="start">1.100</text>
<text x="923.7" y="112.81" font-size="12" font-weight="normal" fill="#131722" text-anchor="start">1.050</text>
<text x="923.7" y="161.14" font-size="12" font-weight="normal" fill="#131722" text-anchor="start">1.000</text>
<text x="923.7" y="257.8" font-size="12" font-weight="normal" fill="#131722" text-anchor="start">0.900</text>
<text x="923.7" y="306.13" font-size="12" font-weight="normal" fill="#131722" text-anchor="start">0.850</text>
<text x="923.7" y="354.46" font-size="12" font-weight="normal" fill="#131722" text-anchor="start">0.800</text>
<text x="923.7" y="402.79" font-size="12" font-weight="normal" fill="#131722" text-anchor="start">0.750</text>
<text x="923.7" y="451.12" font-size="12" font-weight="normal" fill="#131722" text-anchor="start">0.700</text>
<text x="924.2" y="16.0" font-size="12" font-weight="normal" fill="#131722" text-anchor="start" textLength="9.4" lengthAdjust="spacingAndGlyphs">1.</text>
<rect x="934.6" y="7.5" width="26.8" height="17.7" rx="3.5" fill="#fff" stroke="#d3d6e0"/>
<text x="937.3" y="21.0" font-size="12" font-weight="normal" fill="#131722" text-anchor="start" textLength="21.6" lengthAdjust="spacingAndGlyphs">USD</text>
<path d="M914 183H975a2 2 0 0 1 2 2V211.5a2 2 0 0 1-2 2H914Z" fill="#26a69a"/>
<text x="924" y="195.7" font-size="12" font-weight="bold" fill="#fff" text-anchor="start">0.965</text>
<text x="924" y="209.7" font-size="12" font-weight="normal" fill="#fff" text-anchor="start" fill-opacity="0.85" stroke="#fff" stroke-width="0.3" stroke-opacity="0.8">03:00:57</text>
<text x="53.7" y="495" font-size="12" font-weight="normal" fill="#131722" text-anchor="middle">7</text>
<text x="142.7" y="495" font-size="12" font-weight="normal" fill="#131722" text-anchor="middle">13:30</text>
<text x="231.7" y="495" font-size="12" font-weight="normal" fill="#131722" text-anchor="middle">14</text>
<text x="320.7" y="495" font-size="12" font-weight="normal" fill="#131722" text-anchor="middle">13:30</text>
<text x="409.7" y="495" font-size="12" font-weight="normal" fill="#131722" text-anchor="middle">21</text>
<text x="511.7" y="495" font-size="12" font-weight="normal" fill="#131722" text-anchor="middle">25</text>
<text x="613.7" y="495" font-size="12" font-weight="normal" fill="#131722" text-anchor="middle">Mar</text>
<text x="766.7" y="495" font-size="12" font-weight="normal" fill="#131722" text-anchor="middle">7</text>
<text x="855.7" y="495" font-size="12" font-weight="normal" fill="#131722" text-anchor="middle">13:30</text>
</svg></body></html>
